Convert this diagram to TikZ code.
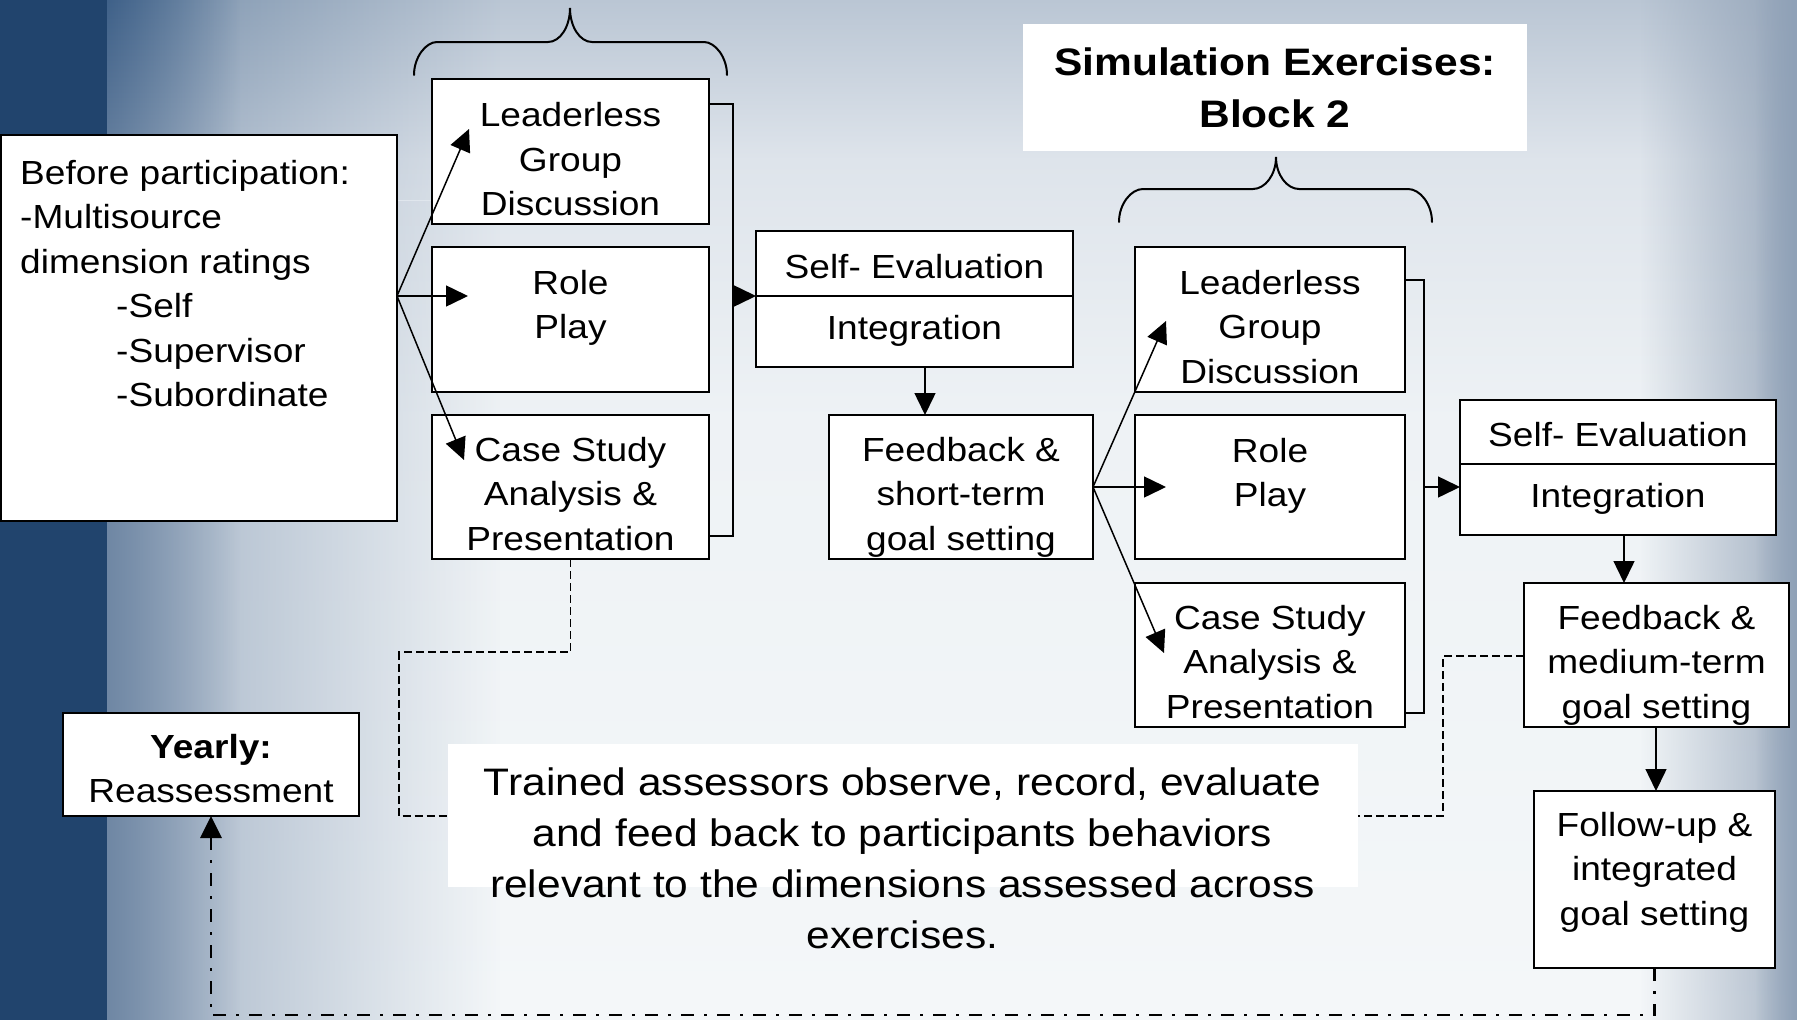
\documentclass[tikz,border=0pt]{standalone}
\usepackage{fontspec}
\setmainfont{Liberation Sans}[FakeStretch=1.11]
\usetikzlibrary{arrows.meta,fadings}

\definecolor{navy}{HTML}{21446D}
\definecolor{bgtop}{HTML}{BAC6D4}
\definecolor{bgupper}{HTML}{DEE4EB}
\definecolor{bgmid}{HTML}{EEF2F5}
\definecolor{bgbot}{HTML}{F4F7F9}
\definecolor{washA}{RGB}{120,144,171}
\definecolor{washAb}{RGB}{162,178,197}
\definecolor{washB}{RGB}{63,97,137}
\definecolor{washBb}{RGB}{111,135,164}
\definecolor{edgeA}{RGB}{150,166,186}
\definecolor{edgeAb}{RGB}{170,183,199}
\definecolor{edgeB}{RGB}{143,161,183}

\newcommand\flowfont{\fontsize{33.4}{44.5}\selectfont}
\newcommand\notefont{\fontsize{38.3}{51}\selectfont}
\newcommand\headfont{\fontsize{38.3}{52}\selectfont\bfseries}

\begin{document}
\begin{tikzpicture}[x=1pt,y=-1pt,
  box/.style={draw=black, line width=1.7pt, fill=white, inner sep=0pt, outer sep=0pt},
  panel/.style={fill=white, inner sep=0pt, outer sep=0pt},
  txt/.style={font=\flowfont, align=center, inner sep=0pt, anchor=north},
  conn/.style={draw=black, line width=1.5pt},
  tipstyle/.style={-{Triangle[length=22pt,width=21pt]}},
  arr/.style={conn, tipstyle},
  assess/.style={draw=black, line width=1.6pt, dash pattern=on 8pt off 4pt},
  yearloop/.style={draw=black, line width=2.8pt, dash pattern=on 13pt off 10pt on 3pt off 10pt},
  bracepath/.style={draw=black, line width=2pt, line cap=round}]

\useasboundingbox (0,0) rectangle (1797,1020);

% ---------- background ----------
\begin{scope}
\clip (0,0) rectangle (1797,1020);
\shade[top color=bgtop, bottom color=bgupper] (0,0) rectangle (1797,160);
\shade[top color=bgupper, bottom color=bgmid] (0,160) rectangle (1797,420);
\shade[top color=bgmid, bottom color=bgbot] (0,420) rectangle (1797,1020);
% soft blue wash next to the left band: darker near the top
\shade[top color=washA, bottom color=washAb, path fading=east] (107,0) rectangle (500,200);
\fill[washAb, path fading=east] (107,200) rectangle (500,1020);
\shade[top color=washB, bottom color=washBb, path fading=east] (107,0) rectangle (240,200);
\fill[washBb, path fading=east] (107,200) rectangle (240,1020);
% grey-blue wash on the right edge
\shade[top color=edgeA, bottom color=edgeAb, path fading=west] (1640,0) rectangle (1797,1020);
\fill[edgeB, path fading=west] (1755,0) rectangle (1797,1020);
% dark left band
\fill[navy] (0,0) rectangle (107,1020);
\end{scope}

% ---------- boxes ----------
\node[box, minimum width=396pt, minimum height=386pt] (before) at (199,328) {};
\node[box, minimum width=277pt, minimum height=145pt] (lgd1) at (570.5,151.5) {};
\node[box, minimum width=277pt, minimum height=145pt] (rp1) at (570.5,319.5) {};
\node[box, minimum width=277pt, minimum height=144pt] (cs1) at (570.5,487) {};
\node[box, minimum width=317pt, minimum height=136pt] (se1) at (914.5,299) {};
\node[box, minimum width=264pt, minimum height=144pt] (fb1) at (961,487) {};
\node[box, minimum width=270pt, minimum height=145pt] (lgd2) at (1270,319.5) {};
\node[box, minimum width=270pt, minimum height=144pt] (rp2) at (1270,487) {};
\node[box, minimum width=270pt, minimum height=144pt] (cs2) at (1270,655) {};
\node[box, minimum width=316pt, minimum height=135pt] (se2) at (1618,467.5) {};
\node[box, minimum width=265pt, minimum height=144pt] (fb2) at (1656.5,655) {};
\node[box, minimum width=241pt, minimum height=177pt] (fu) at (1654.5,879.5) {};
\node[box, minimum width=296pt, minimum height=103pt] (yearly) at (211,764.5) {};
\node[panel, minimum width=504pt, minimum height=127pt] (title) at (1275,87.5) {};
\node[panel, minimum width=910pt, minimum height=143pt] (trained) at (903,815.5) {};

% dividers of the self-evaluation boxes
\draw[line width=1.7pt] (se1.west |- 0,296) -- (se1.east |- 0,296);
\draw[line width=1.7pt] (se2.west |- 0,464) -- (se2.east |- 0,464);

% ---------- texts ----------
\node[txt, align=left, anchor=north west] (beforet) at (20,152.85)
  {\strut Before participation:\\-Multisource\\dimension ratings\\
   \hspace*{96pt}-Self\\\hspace*{96pt}-Supervisor\\\hspace*{96pt}-Subordinate};
\node[txt] (lgd1t) at (570.5,95.35) {\strut Leaderless\\Group\\Discussion};
\node[txt] (rp1t) at (570.5,262.85) {\strut Role\\Play};
\node[txt] (cs1t) at (570.5,429.85) {\strut Case Study\\Analysis \&\\Presentation};
\node[txt] (se1t) at (914.5,246.85) {\strut Self- Evaluation\\[16.5pt]Integration};
\node[txt] (fb1t) at (961,429.85) {\strut Feedback \&\\short-term\\goal setting};
\node[txt] (lgd2t) at (1270,262.85) {\strut Leaderless\\Group\\Discussion};
\node[txt] (rp2t) at (1270,430.85) {\strut Role\\Play};
\node[txt] (cs2t) at (1270,597.85) {\strut Case Study\\Analysis \&\\Presentation};
\node[txt] (se2t) at (1618,414.85) {\strut Self- Evaluation\\[16.5pt]Integration};
\node[txt] (fb2t) at (1656.5,597.85) {\strut Feedback \&\\medium-term\\goal setting};
\node[txt] (fut) at (1654.5,804.85) {\strut Follow-up \&\\integrated\\goal setting};
\node[txt] (yearlyt) at (211,726.85) {\strut\textbf{Yearly:}\\Reassessment};
\node[txt, font=\headfont] (titlet) at (1275,38.6) {\strut Simulation Exercises:\\Block 2};
\node[txt, font=\notefont] (trainedt) at (902.5,759.3)
  {\strut Trained assessors observe, record, evaluate\\and feed back to participants behaviors\\relevant to the dimensions assessed across\\exercises.};

% ---------- braces ----------
\draw[bracepath] (414,75) .. controls (414,57) and (426,42) .. (437,42) -- (548,42)
  .. controls (560,42) and (570,27) .. (570,8)
  .. controls (570,27) and (580,42) .. (592,42) -- (704,42)
  .. controls (715,42) and (727,57) .. (727,75);
\draw[bracepath] (1119,222) .. controls (1119,204) and (1131,189) .. (1143,189) -- (1253,189)
  .. controls (1265,189) and (1276,175) .. (1276,157)
  .. controls (1276,175) and (1287,189) .. (1299,189) -- (1408,189)
  .. controls (1420,189) and (1432,204) .. (1432,222);

% ---------- block 1 connectors ----------
\coordinate (bsrc) at (before.east |- 0,296);
\coordinate (tipL1) at (469,129);
\coordinate (tipR1) at (468,296);
\coordinate (tipC1) at (464,460);
\draw[arr] (bsrc) -- (tipL1);
\draw[arr] (bsrc) -- (tipR1);
\draw[arr] (bsrc) -- (tipC1);

\coordinate (b1top) at (733,104);
\coordinate (b1mid) at (733,296);
\coordinate (b1bot) at (733,536);
\draw[conn] (lgd1.east |- b1top) -- (b1top) -- (b1bot) -- (cs1.east |- b1bot);
\draw[arr] (b1mid) -- (se1.west |- b1mid);

\coordinate (c1) at (925,0);
\draw[arr] (se1.south -| c1) -- (fb1.north -| c1);

% ---------- block 2 connectors ----------
\coordinate (fsrc) at (fb1.east |- 0,487);
\coordinate (tipL2) at (1166,321);
\coordinate (tipR2) at (1166,487);
\coordinate (tipC2) at (1164,653);
\draw[arr] (fsrc) -- (tipL2);
\draw[arr] (fsrc) -- (tipR2);
\draw[arr] (fsrc) -- (tipC2);

\coordinate (b2top) at (1424,280);
\coordinate (b2mid) at (1424,487);
\coordinate (b2bot) at (1424,713);
\draw[conn] (lgd2.east |- b2top) -- (b2top) -- (b2bot) -- (cs2.east |- b2bot);
\draw[arr] (b2mid) -- (se2.west |- b2mid);

\coordinate (c2) at (1624,0);
\draw[arr] (se2.south -| c2) -- (fb2.north -| c2);
\coordinate (c3) at (1656,0);
\draw[arr] (fb2.south -| c3) -- (fu.north -| c3);

% ---------- assessor links ----------
\draw[assess] (cs1.south) -- (cs1.south |- 0,652) -- (399,652) -- (399,816) -- (trained.west |- 0,816);
\draw[assess] (fb2.west |- 0,656) -- (1443,656) -- (1443,816) -- (trained.east |- 0,816);

% ---------- yearly loop ----------
\coordinate (loopR) at (fu.south |- 0,1015);
\coordinate (loopL) at (yearly.south |- 0,1015);
\draw[yearloop, tipstyle] (fu.south) -- (loopR) -- (loopL) -- (yearly.south);

\end{tikzpicture}
\end{document}
